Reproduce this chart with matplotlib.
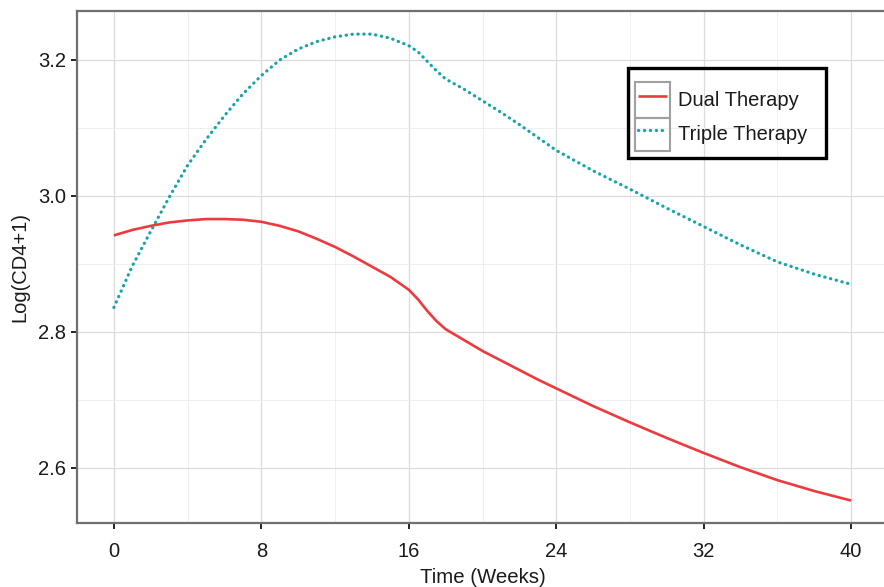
import matplotlib
matplotlib.use("Agg")
import matplotlib.pyplot as plt
from matplotlib.patches import Rectangle
from matplotlib.ticker import MultipleLocator

weeks = [0, 1, 2, 3, 4, 5, 6, 7, 8, 9, 10, 11, 12, 13, 14, 15, 16, 16.5, 17, 17.5, 18, 19,
         20, 21, 22, 23, 24, 26, 28, 30, 32, 34, 36, 38, 40]
dual = [2.942, 2.950, 2.956, 2.961, 2.964, 2.966, 2.966, 2.965, 2.962, 2.956, 2.948, 2.937,
        2.925, 2.911, 2.896, 2.881, 2.862, 2.848, 2.831, 2.816, 2.804, 2.788,
        2.772, 2.758, 2.744, 2.730, 2.717, 2.691, 2.667, 2.644, 2.622, 2.601, 2.582, 2.566, 2.552]
triple = [2.836, 2.897, 2.948, 2.998, 3.045, 3.083, 3.118, 3.150, 3.177, 3.200, 3.216, 3.227,
          3.234, 3.238, 3.238, 3.232, 3.221, 3.212, 3.198, 3.184, 3.172, 3.157,
          3.140, 3.123, 3.105, 3.086, 3.067, 3.037, 3.010, 2.982, 2.955, 2.928, 2.903, 2.885, 2.870]
xticks = [0, 8, 16, 24, 32, 40]
yticks = [2.6, 2.8, 3.0, 3.2]

plt.rcParams['font.family'] = ['Liberation Sans', 'DejaVu Sans']

W, H = 884, 587
fig = plt.figure(figsize=(W / 100, H / 100), dpi=100)
ax = fig.add_axes([77 / W, 1 - 523 / H, (888 - 77) / W, (523 - 11) / H])

ax.plot(weeks, dual, color='#EE3A3F', lw=1.9, label='Dual Therapy', solid_capstyle='butt',
        solid_joinstyle='round')
ax.plot(weeks, triple, color='#14A5A8', lw=2.3, ls=(0, (0.1, 1.75)), label='Triple Therapy',
        dash_capstyle='round')

ax.set_xlim(-2, 42)
ax.set_ylim(2.519, 3.272)
ax.set_xticks(xticks)
ax.set_yticks(yticks)
ax.set_yticklabels([f"{v:.1f}" for v in yticks])
ax.xaxis.set_minor_locator(MultipleLocator(4))
ax.yaxis.set_minor_locator(MultipleLocator(0.1))
ax.grid(which='major', color='#DCDCDC', lw=0.9)
ax.grid(which='minor', color='#EDEDED', lw=0.6)
ax.set_axisbelow(True)
ax.tick_params(which='major', length=4, width=1.4, color='#222222', labelsize=14.5,
               labelcolor='#1a1a1a')
ax.tick_params(axis='x', which='major', pad=10)
ax.tick_params(axis='y', which='major', pad=4)
ax.tick_params(which='minor', length=0)
for s in ['left', 'bottom', 'top']:
    ax.spines[s].set_color('#707070')
    ax.spines[s].set_linewidth(1.6)
ax.spines['right'].set_visible(False)

ax.set_xlabel('Time (Weeks)', fontsize=14.7, color='#1a1a1a', labelpad=5)
ax.set_ylabel('Log(CD4+1)', fontsize=14.5, color='#1a1a1a', labelpad=6)

leg = ax.legend(loc='upper left', bbox_to_anchor=(638 / W, 1 - 86 / H),
                bbox_transform=fig.transFigure, borderaxespad=0, borderpad=0,
                frameon=False, fontsize=14.5, handlelength=1.45, handleheight=1.7,
                handletextpad=0.55, labelspacing=0.33)
for t in leg.get_texts():
    t.set_color('#1a1a1a')

fig.patches.append(Rectangle((628 / W, 1 - 158 / H), (826 - 628) / W, (158 - 68) / H,
                             transform=fig.transFigure, fill=False, edgecolor='black',
                             lw=2.4, zorder=10))
for y0, y1 in ((82, 118), (118, 151)):
    fig.patches.append(Rectangle((635 / W, 1 - y1 / H), 35 / W, (y1 - y0) / H,
                                 transform=fig.transFigure, fill=False,
                                 edgecolor='#a0a0a0', lw=1.5, zorder=10))

fig.savefig('out.png', dpi=100)
